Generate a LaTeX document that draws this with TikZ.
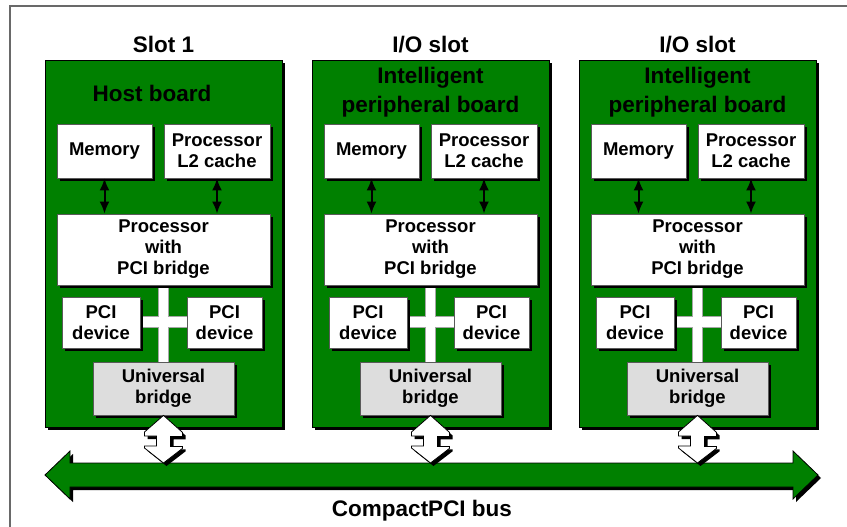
\documentclass[tikz,border=0pt]{standalone}
\usepackage{fontspec}
\setmainfont{Liberation Sans}
\usetikzlibrary{shadows,arrows.meta,calc}
\definecolor{boardgreen}{RGB}{0,128,0}
\definecolor{bridgegray}{RGB}{221,221,221}
\definecolor{framegray}{RGB}{105,105,105}
\definecolor{edgegray}{RGB}{90,90,90}
\pgfdeclarelayer{boards}
\pgfdeclarelayer{links}
\pgfsetlayers{boards,links,main}
\tikzset{
  mkshadow/.style={drop shadow={shadow xshift=3pt,shadow yshift=-3pt,opacity=1,fill=black}},
  board/.style={draw=black,line width=0.8pt,fill=boardgreen,mkshadow,
    minimum width=237pt,minimum height=367pt,inner sep=0pt},
  unit/.style={draw=edgegray,line width=0.8pt,fill=white,mkshadow,inner sep=0pt,
    align=center,font=\bfseries\fontsize{18.5}{21}\selectfont},
  bridge/.style={unit,fill=bridgegray},
  title/.style={font=\bfseries\fontsize{22.5}{29}\selectfont,inner sep=0pt,anchor=base},
  updown/.style={line width=2pt,{Latex[length=12pt,width=10pt]}-{Latex[length=12pt,width=10pt]}},
  hollowarrow/.style={draw=black,line width=0.8pt,fill=white,mkshadow},
  busarrow/.style={draw=black,line width=0.8pt,fill=boardgreen,mkshadow},
  crossbar/.style={draw=gray!70,line width=0.6pt,fill=white}
}
\begin{document}
\begin{tikzpicture}[x=1pt,y=-1pt]
\useasboundingbox (0,0) rectangle (847,527);
% outer frame
\draw[framegray,line width=1.6pt] (10,560) -- (10,6) -- (880,6);

% slot titles
\node[title] (slot1) at (163.5,53) {Slot 1};
\node[title] (slot2) at (430.5,53) {I/O slot};
\node[title] (slot3) at (697.5,53) {I/O slot};

% the three boards
\foreach \i/\dx in {1/0,2/267,3/534}{
  \begin{pgfonlayer}{boards}
    \node[board] (board\i) at (163.5+\dx,243.5) {};
  \end{pgfonlayer}
  \node[unit,minimum width=95pt,minimum height=54pt]  (mem\i)  at (104.5+\dx,151) {Memory};
  \node[unit,minimum width=106pt,minimum height=54pt] (l2\i)   at (217+\dx,151) {Processor\\L2 cache};
  \node[unit,minimum width=213pt,minimum height=71pt] (proc\i) at (163.5+\dx,249.5) {Processor\\with\\PCI bridge};
  \node[unit,minimum width=78pt,minimum height=51pt]  (pcil\i) at (101+\dx,322.5) {PCI\\device};
  \node[unit,minimum width=75pt,minimum height=51pt]  (pcir\i) at (224.5+\dx,322.5) {PCI\\device};
  \node[bridge,minimum width=141pt,minimum height=53pt] (ub\i) at (163.5+\dx,388.5) {Universal\\bridge};
  % local bus arrows
  \draw[updown] (mem\i.south) -- (mem\i.south |- proc\i.north);
  \draw[updown] (l2\i.south) -- (l2\i.south |- proc\i.north);
  % PCI cross
  \begin{pgfonlayer}{links}
    \draw[crossbar] ($(proc\i.south)+(-5,0)$) rectangle ($(ub\i.north)+(5,0)$);
    \draw[crossbar] ($(pcil\i.east)+(0,-6)$) rectangle ($(pcir\i.west)+(0,5)$);
    \fill[white] ($(proc\i.south)+(-4.6,0)$) rectangle ($(ub\i.north)+(4.6,0)$);
    \fill[white] ($(pcil\i.east)+(0,-5.6)$) rectangle ($(pcir\i.west)+(0,4.6)$);
  \end{pgfonlayer}
}

% board names
\node[title] (host) at (152,102) {Host board};
\node[title] (intel2) at (430.5,84) {Intelligent};
\node[title] (periph2) at (430.5,113) {peripheral board};
\node[title] (intel3) at (697.5,84) {Intelligent};
\node[title] (periph3) at (697.5,113) {peripheral board};

% CompactPCI bus
\coordinate (busL) at (45,475);
\coordinate (busR) at (818,475);
\coordinate (bustop) at (45,463);
\draw[busarrow] (busL) -- ++(25,-24) -- ++(0,12) -- ($(busR)+(-25,-12)$) -- ++(0,-12)
  -- (busR) -- ++(-25,24) -- ++(0,-12) -- ($(busL)+(25,12)$) -- ++(0,12) -- cycle;
\node[title] (buslabel) at (422,516) {CompactPCI bus};

% board-to-bus links
\foreach \i in {1,2,3}{
  \draw[hollowarrow] (ub\i.south) -- ++(19,17) -- ++(0,4) -- ++(-12,0) -- ++(0,10)
    -- ++(12,0) -- ++(0,2) -- (ub\i.south |- bustop) -- ++(-19,-15) -- ++(0,-2)
    -- ++(12,0) -- ++(0,-10) -- ++(-12,0) -- ++(0,-4) -- cycle;
}
\end{tikzpicture}
\end{document}
